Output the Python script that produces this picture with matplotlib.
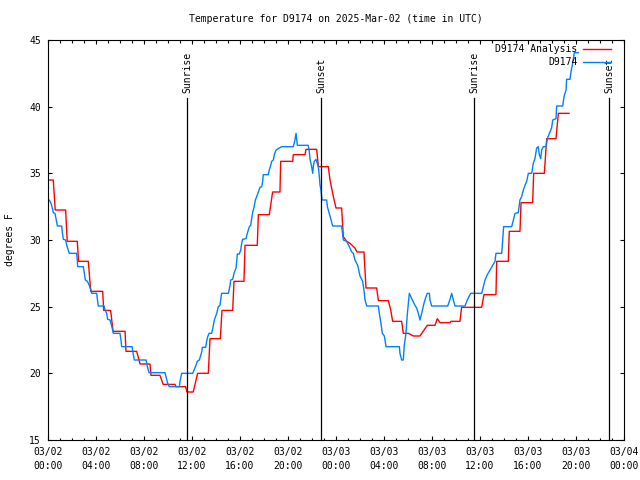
import matplotlib
matplotlib.use("Agg")
import matplotlib.pyplot as plt
from matplotlib.ticker import MultipleLocator

# hours since 2025-03-02 00:00 UTC
analysis_hours = [
    0.0, 0.44, 0.6, 1.47, 1.6, 2.44, 2.55, 3.36, 3.56, 4.56, 4.64, 5.22,
    5.42, 6.42, 6.5, 7.39, 7.67, 8.5, 8.58, 9.33, 9.6, 10.58, 10.67, 11.47,
    11.58, 12.1, 12.47, 13.36, 13.5, 14.36, 14.5, 15.39, 15.5, 16.33, 16.42,
    17.44, 17.53, 18.44, 18.72, 19.33, 19.39, 20.39, 20.44, 21.42, 21.5,
    22.39, 22.53, 23.36, 23.5, 23.78, 24.0, 24.47, 24.56, 24.61, 24.89,
    25.17, 25.58, 25.75, 26.33, 26.5, 27.39, 27.53, 28.36, 28.56, 28.72,
    29.47, 29.61, 30.03, 30.44, 31.0, 31.22, 31.61, 32.25, 32.44, 32.67,
    33.5, 33.58, 34.33, 34.47, 36.14, 36.33, 37.33, 37.39, 38.36, 38.44,
    39.33, 39.42, 40.39, 40.47, 41.36, 41.56, 42.33, 42.53, 43.42,
]
analysis_temp = [
    34.5, 34.5, 32.25, 32.25, 29.9, 29.9, 28.4, 28.4, 26.15, 26.15, 24.72, 24.72,
    23.15, 23.15, 21.65, 21.65, 20.7, 20.7, 19.85, 19.85, 19.17, 19.17, 19.0, 19.0,
    18.6, 18.6, 20.0, 20.0, 22.6, 22.6, 24.72, 24.72, 26.9, 26.9, 29.6,
    29.6, 31.9, 31.9, 33.6, 33.6, 35.9, 35.9, 36.4, 36.4, 36.8,
    36.8, 35.5, 35.5, 34.5, 33.25, 32.4, 32.4, 31.0, 30.25, 29.9,
    29.75, 29.4, 29.1, 29.1, 26.4, 26.4, 25.45, 25.45, 24.75, 23.9,
    23.9, 23.0, 23.0, 22.8, 22.8, 23.1, 23.6, 23.6, 24.1, 23.8,
    23.8, 23.9, 23.9, 24.95, 24.95, 25.9, 25.9, 28.4, 28.4, 30.65,
    30.65, 32.8, 32.8, 35.0, 35.0, 37.6, 37.6, 39.5, 39.5,
]

obs_hours = [
    0.0, 0.11, 0.25, 0.39, 0.44, 0.58, 0.67, 0.78, 1.14, 1.19, 1.28, 1.47,
    1.56, 1.69, 1.78, 2.39, 2.44, 2.47, 2.94, 3.03, 3.11, 3.28, 3.44, 3.58,
    3.64, 4.06, 4.11, 4.19, 4.67, 4.75, 4.89, 4.97, 5.17, 5.25, 5.39, 5.44,
    6.0, 6.08, 6.14, 7.0, 7.11, 7.19, 8.17, 8.28, 8.42, 9.75, 9.83, 9.97,
    10.11, 10.94, 11.0, 11.14, 12.06, 12.17, 12.33, 12.44, 12.61, 12.81,
    12.86, 13.14, 13.22, 13.31, 13.42, 13.64, 13.78, 13.86, 14.06, 14.19,
    14.33, 14.47, 15.03, 15.17, 15.22, 15.39, 15.5, 15.67, 15.78, 15.94,
    16.06, 16.14, 16.22, 16.5, 16.61, 16.78, 16.89, 16.97, 17.06, 17.17,
    17.28, 17.39, 17.53, 17.67, 17.81, 17.89, 17.94, 18.36, 18.44, 18.56,
    18.64, 18.78, 18.86, 19.0, 19.47, 20.44, 20.58, 20.67, 20.78, 21.69,
    21.78, 21.83, 21.97, 22.06, 22.11, 22.19, 22.33, 22.44, 22.53, 22.61,
    22.67, 22.75, 22.83, 23.22, 23.28, 23.44, 23.56, 23.72, 24.47, 24.61,
    24.89, 25.11, 25.31, 25.44, 25.58, 25.81, 26.0, 26.22, 26.33, 26.42,
    26.56, 27.53, 27.61, 27.72, 27.86, 28.03, 28.17, 29.28, 29.33, 29.47,
    29.61, 29.69, 29.83, 29.94, 30.11, 30.31, 30.58, 30.72, 30.86, 31.0,
    31.14, 31.33, 31.5, 31.61, 31.78, 31.83, 31.97, 33.31, 33.5, 33.64,
    33.78, 33.92, 34.75, 34.94, 35.22, 36.14, 36.28, 36.42, 36.61, 36.83,
    37.06, 37.25, 37.33, 37.81, 37.89, 37.97, 38.64, 38.78, 38.92, 39.19,
    39.33, 39.47, 39.61, 39.75, 39.89, 40.03, 40.31, 40.44, 40.58, 40.72,
    40.86, 40.94, 41.06, 41.14, 41.28, 41.5, 41.61, 41.78, 41.97, 42.06,
    42.33, 42.39, 42.89, 43.0, 43.17, 43.22, 43.5, 43.58, 43.69, 43.78,
    43.86, 44.19,
]
obs_temp = [
    33.0, 33.0, 32.75, 32.3, 32.05, 32.0, 31.6, 31.05, 31.05, 30.6, 30.05, 30.0,
    29.6, 29.25, 29.0, 29.0, 28.5, 28.0, 28.0, 27.5, 27.0, 26.9, 26.6, 26.25,
    26.0, 26.0, 25.6, 25.05, 25.05, 24.75, 24.5, 24.05, 24.0, 23.75, 23.25, 23.0,
    23.0, 22.5, 22.0, 22.0, 21.4, 21.0, 21.0, 20.5, 20.05, 20.05, 19.75, 19.25,
    19.0, 19.0, 19.4, 20.0, 20.0, 20.25, 20.6, 20.9, 21.0, 21.6,
    21.95, 21.95, 22.4, 22.75, 23.0, 23.0, 23.6, 24.0, 24.5, 25.0,
    25.1, 26.0, 26.0, 26.6, 27.0, 27.05, 27.5, 27.9, 28.95, 28.95,
    29.25, 29.75, 30.05, 30.1, 30.5, 31.0, 31.1, 31.6, 32.1, 32.45,
    33.0, 33.25, 33.6, 33.95, 34.0, 34.4, 34.9, 34.9, 35.25, 35.6,
    35.9, 36.0, 36.4, 36.75, 37.0, 37.0, 37.5, 38.0, 37.1, 37.1,
    36.6, 36.1, 35.5, 35.0, 35.5, 35.9, 36.05, 35.75, 35.5, 34.75,
    34.1, 33.75, 33.0, 33.0, 32.5, 32.0, 31.6, 31.05, 31.05, 30.0,
    29.9, 29.5, 29.1, 29.0, 28.5, 28.1, 27.3, 26.9, 26.25, 25.5,
    25.05, 25.05, 24.5, 23.9, 23.0, 22.8, 22.0, 22.0, 21.5, 21.0,
    21.0, 22.1, 23.0, 24.4, 26.0, 25.6, 25.1, 24.9, 24.5, 24.0,
    24.5, 25.25, 25.75, 26.0, 26.0, 25.5, 25.05, 25.05, 25.55, 26.0,
    25.5, 25.05, 25.05, 25.5, 26.0, 26.0, 26.5, 27.0, 27.4, 27.75,
    28.1, 28.4, 29.0, 29.0, 30.0, 31.0, 31.0, 31.5, 32.0, 32.05,
    33.0, 33.25, 33.75, 34.1, 34.4, 35.0, 35.0, 35.75, 36.1, 36.9,
    37.0, 36.4, 36.1, 36.75, 37.0, 37.0, 37.6, 38.0, 38.4, 39.0,
    39.1, 40.05, 40.05, 40.75, 41.25, 42.05, 42.05, 42.6, 43.1, 43.6,
    44.05, 44.05,
]

sun_events = ["Sunrise", "Sunset", "Sunrise", "Sunset"]
sun_hours = [11.58, 22.75, 35.5, 46.77]

x_ticks = list(range(0, 49, 4))
x_tick_labels = ["03/%02d\n%02d:00" % (2 + h // 24, h % 24) for h in x_ticks]
y_ticks = [15, 20, 25, 30, 35, 40, 45]

plt.rcParams["font.family"] = "DejaVu Sans Mono"
plt.rcParams["font.size"] = 7

fig = plt.figure(figsize=(6.4, 4.8), dpi=100)
ax = fig.add_axes([48 / 640, 40 / 480, 576 / 640, 400 / 480])

ax.plot(analysis_hours, analysis_temp, color="#ff0000", linewidth=1.0,
        label="D9174 Analysis")
ax.plot(obs_hours, obs_temp, color="#0080ff", linewidth=1.0, label="D9174")

# sunrise / sunset markers
for name, h in zip(sun_events, sun_hours):
    ax.axvline(h, ymin=0, ymax=0.855, color="black", linewidth=0.9)
    ax.text(h, 0.8675, name, rotation=90, ha="center", va="bottom",
            transform=ax.get_xaxis_transform())

ax.set_xlim(0, 48)
ax.set_ylim(15, 45)
ax.set_xticks(x_ticks)
ax.set_xticklabels(x_tick_labels, linespacing=1.5)
ax.xaxis.set_minor_locator(MultipleLocator(1))
ax.set_yticks(y_ticks)

ax.tick_params(which="both", direction="in", top=True, right=True, width=0.8)
ax.tick_params(which="major", length=3.2, pad=5)
ax.tick_params(which="minor", length=1.8)
for sp in ax.spines.values():
    sp.set_linewidth(0.8)

ax.set_title("Temperature for D9174 on 2025-Mar-02 (time in UTC)", pad=13,
             fontsize=7)
ax.set_ylabel("degrees F")
ax.yaxis.set_label_coords(-0.058, 0.5)

ax.legend(loc="upper right", bbox_to_anchor=(0.977, 0.99), frameon=False,
          markerfirst=False, handlelength=2.9, handletextpad=0.5,
          labelspacing=0.3, borderpad=0, borderaxespad=0)

fig.savefig("out.png", dpi=100)
